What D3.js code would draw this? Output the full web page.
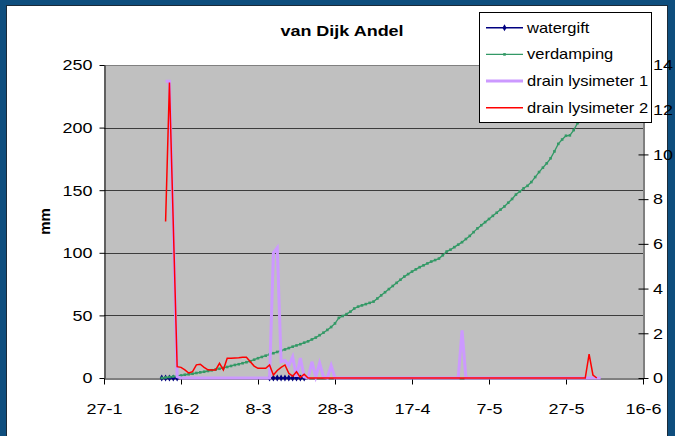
<!DOCTYPE html>
<html>
<head>
<meta charset="utf-8">
<script src="https://cdn.jsdelivr.net/npm/d3@7"></script>
<style>
  html, body { margin: 0; padding: 0; background: #0e4e7e; }
  svg { display: block; }
</style>
</head>
<body>
<svg id="chart" width="675" height="436"></svg>
<script>
// ---------------- DATA ----------------
const chartTitle = "van Dijk Andel";
const yAxisTitle = "mm";
const year = 2003;
const xTickLabels = ["27-1", "16-2", "8-3", "28-3", "17-4", "7-5", "27-5", "16-6"];
const leftTicks = [0, 50, 100, 150, 200, 250];
const rightTicks = [0, 2, 4, 6, 8, 10, 12, 14];
const seriesNames = ["watergift", "verdamping", "drain lysimeter 1", "drain lysimeter 2"];
const firstDay = "11-2"; // date of the first value in each daily series below

// watergift (right axis), daily from 11-2
const watergift = [
  0, 0, 0, 0, 0, null, null, null, null, null,
  null, null, null, null, null, null, null, null, null, null,
  null, null, null, null, null, null, null, null, 0, 0,
  0, 0, 0, 0, 0, 0, 0, 0
];
// verdamping (left axis), daily from 11-2
const verdamping = [
  0, 0.4, 0.8, 1.2, 1.5, 2.0, 2.6, 3.0, 3.4, 4.0,
  4.5, 5.0, 5.6, 6.2, 6.8, 7.4, 8.0, 8.8, 9.6, 10.4,
  11.0, 11.8, 12.6, 13.4, 14.6, 15.8, 16.8, 17.8, 18.8, 19.8,
  20.8, 21.8, 22.8, 23.9, 25.0, 26.0, 27.0, 28.2, 29.3, 30.8,
  32.3, 34.2, 36.2, 38.4, 40.7, 43.6, 48.0, 49.5, 51.0, 53.0,
  55.5, 57.0, 58.0, 59.0, 60.0, 61.0, 63.5, 66.0, 68.5, 71.0,
  73.5, 76.0, 78.5, 81.0, 83.0, 85.0, 86.8, 88.5, 90.0, 91.5,
  93.0, 94.2, 95.4, 98.0, 101.0, 102.5, 104.5, 106.5, 108.5, 111.0,
  113.5, 116.5, 119.5, 122.0, 124.5, 127.0, 129.5, 132.0, 134.5, 137.0,
  140.0, 143.0, 146.5, 149.0, 151.5, 153.5, 156.5, 160.5, 164.5, 168.0,
  171.5, 175.5, 181.0, 187.0, 190.5, 193.5, 193.8, 198.0, 203.5, 206.0,
  208.5, 211.0, 213.0, 215.0, 217.0
];
// drain lysimeter 1 (left axis), daily from 11-2
const drainLysimeter1 = [
  null, 237, 237, null, 1, 0, 0, 0, 0, 0,
  0, 0, 0, 0, 0, 0, 0, 0, 0, 0,
  0, 0, 0, 0, 0, 0, 0, 0, 0, 100,
  104, 13, 14, 10, 17, 1, 16, 1, 0, 13,
  1, 12, 1, 0, 10, 0, 0, 0, 0, 0,
  0, 0, 0, 0, 0, 0, 0, 0, 0, 0,
  0, 0, 0, 0, 0, 0, 0, 0, 0, 0,
  0, 0, 0, 0, 0, 0, 0, 0, 38, 0,
  0, 0, 0, 0, 0, 0, 0, 0, 0, 0,
  0, 0, 0, 0, 0, 0, 0, 0, 0, 0,
  0, 0, 0, 0, 0, 0, 0, 0, 0, 0,
  0, 0, 0, 0, 0
];
// drain lysimeter 2 (left axis), daily from 11-2
const drainLysimeter2 = [
  null, 125, 236, null, 9, 8.5, 6.5, 4, 5, 10.5,
  11, 8.5, 6.5, 6.4, 6.4, 11.7, 6.5, 15.7, 15.7, 16,
  16.2, 16.5, 16.5, 13, 9.5, 7.7, 7.7, 7.7, 10.4, 2.4,
  6, 8.5, 10.4, 3.8, 1.5, 5, 0.5, 3, 0, 0,
  0, 0, 0, 0, 0, 0, 0, 0, 0, 0,
  0, 0, 0, 0, 0, 0, 0, 0, 0, 0,
  0, 0, 0, 0, 0, 0, 0, 0, 0, 0,
  0, 0, 0, 0, 0, 0, 0, 0, 0, 0,
  0, 0, 0, 0, 0, 0, 0, 0, 0, 0,
  0, 0, 0, 0, 0, 0, 0, 0, 0, 0,
  0, 0, 0, 0, 0, 0, 0, 0, 0, 0,
  0, 19, 2.4, 0, null
];

// ---------------- LAYOUT / STYLE ----------------
const W = 675, H = 436;
const plot = { left: 104, right: 643, top: 65, bottom: 378 };
const FONT = "'Liberation Sans', Arial, Helvetica, sans-serif";
const SX = 1.2; // horizontal stretch of text seen in reference
const colors = { watergift: "#000080", verdamping: "#339966", lys1: "#cc99ff", lys2: "#ff0000" };

const parseDM = d3.timeParse("%d-%m-%Y");
const toDate = s => parseDM(s + "-" + year);
const tickDates = xTickLabels.map(toDate);
const start = toDate(firstDay);
const dayAt = i => d3.timeDay.offset(start, i);

const x = d3.scaleTime().domain([tickDates[0], tickDates[tickDates.length - 1]]).range([plot.left, plot.right]);
const yL = d3.scaleLinear().domain([leftTicks[0], leftTicks[leftTicks.length - 1]]).range([plot.bottom, plot.top]);
const yR = d3.scaleLinear().domain([rightTicks[0], rightTicks[rightTicks.length - 1]]).range([plot.bottom, plot.top]);

const svg = d3.select("#chart");

// outer frame
svg.append("rect").attr("x", 0).attr("y", 0).attr("width", W).attr("height", H).attr("fill", "#0e4e7e");
svg.append("rect").attr("x", 6.5).attr("y", 5.5).attr("width", 661).attr("height", 440)
  .attr("fill", "#ffffff").attr("stroke", "#1b2a38").attr("stroke-width", 1);

// plot area
svg.append("rect").attr("x", plot.left).attr("y", plot.top)
  .attr("width", plot.right - plot.left).attr("height", plot.bottom - plot.top)
  .attr("fill", "#c0c0c0");
svg.append("line").attr("x1", plot.left).attr("x2", plot.right)
  .attr("y1", plot.top + 0.5).attr("y2", plot.top + 0.5).attr("stroke", "#808080");

// gridlines
svg.append("g").selectAll("line").data(leftTicks.slice(1, -1)).join("line")
  .attr("x1", plot.left).attr("x2", plot.right)
  .attr("y1", d => Math.round(yL(d)) + 0.5).attr("y2", d => Math.round(yL(d)) + 0.5)
  .attr("stroke", "#3c3c3c").attr("stroke-width", 1);

function styleAxis(g, size) {
  g.selectAll("path, line").attr("stroke", "#000");
  g.selectAll("text").attr("font-family", FONT).attr("font-size", size).attr("fill", "#000");
}

// left axis
const gL = svg.append("g").attr("transform", `translate(${plot.left + 0.5},0)`)
  .call(d3.axisLeft(yL).tickValues(leftTicks).tickSizeInner(5).tickSizeOuter(0).tickPadding(5));
styleAxis(gL, 15);
gL.selectAll("text").attr("transform", `scale(${SX},1)`);

// bottom axis
const gB = svg.append("g").attr("transform", `translate(0,${plot.bottom + 0.5})`)
  .call(d3.axisBottom(x).tickValues(tickDates).tickFormat((d, i) => xTickLabels[i])
    .tickSizeInner(6).tickSizeOuter(0).tickPadding(19));
styleAxis(gB, 15);
gB.selectAll(".tick text").each(function () {
  const t = d3.select(this);
  t.attr("transform", `scale(${SX},1)`);
});

// right axis
const gR = svg.append("g").attr("transform", `translate(${plot.right + 0.5},0)`)
  .call(d3.axisRight(yR).tickValues(rightTicks).tickSizeInner(5).tickSizeOuter(0).tickPadding(3));
styleAxis(gR, 15);
gR.selectAll(".tick line").attr("x1", -5).attr("x2", 5);
gR.selectAll("text").attr("transform", `scale(${SX},1)`);

// series
function points(arr, yScale) {
  return arr.map((v, i) => ({ d: dayAt(i), v })).filter(p => p.v !== null && p.v !== undefined);
}
const lineGen = yScale => d3.line().x(p => x(p.d)).y(p => yScale(p.v));

const gS = svg.append("g");
const wg = points(watergift, yR);
gS.append("path").attr("d", lineGen(yR)(wg)).attr("fill", "none")
  .attr("stroke", colors.watergift).attr("stroke-width", 1.5);
gS.append("g").selectAll("path").data(wg).join("path")
  .attr("d", d3.symbol(d3.symbolDiamond, 14)())
  .attr("transform", p => `translate(${x(p.d)},${yR(p.v)})`)
  .attr("fill", colors.watergift);

const vd = points(verdamping, yL);
gS.append("path").attr("d", lineGen(yL)(vd)).attr("fill", "none")
  .attr("stroke", colors.verdamping).attr("stroke-width", 1.3);
gS.append("g").selectAll("rect").data(vd).join("rect")
  .attr("x", p => x(p.d) - 1.3).attr("y", p => yL(p.v) - 1.3)
  .attr("width", 2.6).attr("height", 2.6).attr("fill", colors.verdamping);

const l1 = points(drainLysimeter1, yL);
gS.append("path").attr("d", lineGen(yL)(l1)).attr("fill", "none")
  .attr("stroke", colors.lys1).attr("stroke-width", 3).attr("stroke-linejoin", "miter");

const l2 = points(drainLysimeter2, yL);
gS.append("path").attr("d", lineGen(yL)(l2)).attr("fill", "none")
  .attr("stroke", colors.lys2).attr("stroke-width", 1.5);

// title
svg.append("text").attr("transform", `translate(342,35.5) scale(${SX},1)`)
  .attr("text-anchor", "middle").attr("font-family", FONT).attr("font-weight", "bold")
  .attr("font-size", 15).text(chartTitle);

// y axis title
svg.append("text").attr("transform", `translate(50,${(plot.top + plot.bottom) / 2}) rotate(-90)`)
  .attr("text-anchor", "middle").attr("font-family", FONT).attr("font-weight", "bold")
  .attr("font-size", 15).text(yAxisTitle);

// legend
const lg = svg.append("g");
lg.append("rect").attr("x", 479.5).attr("y", 12.5).attr("width", 172).attr("height", 110)
  .attr("fill", "#fff").attr("stroke", "#000").attr("stroke-width", 1);
const legendStyles = [
  { c: colors.watergift, w: 1.5, m: "diamond" },
  { c: colors.verdamping, w: 1.3, m: "square" },
  { c: colors.lys1, w: 3, m: null },
  { c: colors.lys2, w: 1.5, m: null }
];
seriesNames.forEach((name, i) => {
  const yy = 27.7 + i * 26.7;
  const s = legendStyles[i];
  lg.append("line").attr("x1", 486).attr("x2", 523).attr("y1", yy).attr("y2", yy)
    .attr("stroke", s.c).attr("stroke-width", s.w);
  if (s.m === "diamond") {
    lg.append("path").attr("d", d3.symbol(d3.symbolDiamond, 14)())
      .attr("transform", `translate(504.5,${yy})`).attr("fill", s.c);
  } else if (s.m === "square") {
    lg.append("rect").attr("x", 503.2).attr("y", yy - 1.3).attr("width", 2.6).attr("height", 2.6).attr("fill", s.c);
  }
  lg.append("text").attr("transform", `translate(527,${yy + 5}) scale(1.18,1)`)
    .attr("font-family", FONT).attr("font-size", 14).attr("fill", "#000").text(name);
});
</script>
</body>
</html>
